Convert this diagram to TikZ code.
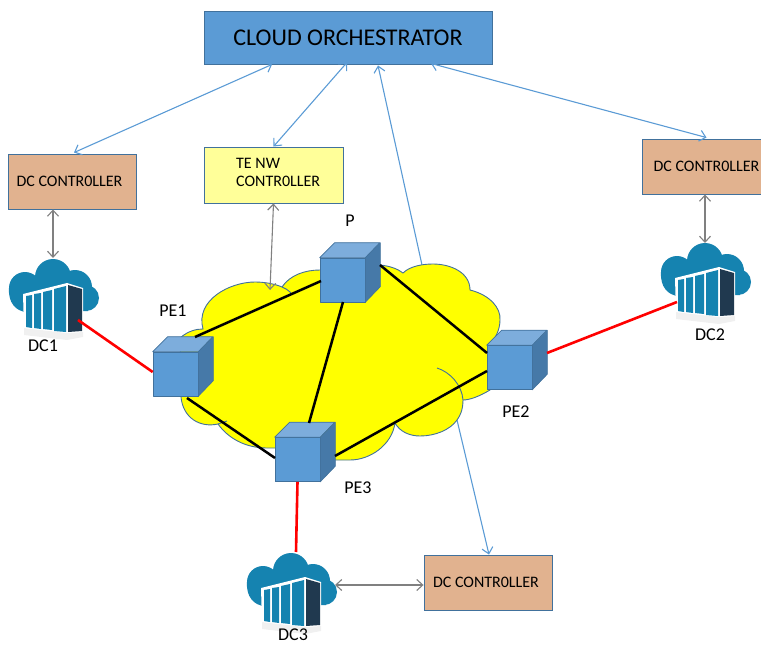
\documentclass[tikz,border=0pt]{standalone}
\usepackage{fontspec}
\setmainfont{Carlito}
\usetikzlibrary{arrows.meta,calc}
\definecolor{cubefront}{HTML}{5B9BD5}
\definecolor{cubetop}{HTML}{7DADDC}
\definecolor{cubeside}{HTML}{4679A8}
\definecolor{edge}{HTML}{41719C}
\definecolor{tan}{HTML}{E1B28F}
\definecolor{pale}{HTML}{FFFF99}
\definecolor{wanyellow}{HTML}{FFFF00}
\definecolor{linkred}{HTML}{FF0000}
\definecolor{skyline}{HTML}{5B9BD5}
\definecolor{dcblue}{HTML}{1583B0}
\definecolor{dcdark}{HTML}{20394F}
\tikzset{
  x=1pt,y=-1pt,
  box/.style={draw=edge,line width=0.9pt,inner sep=0pt,align=center,text=black},
  dcbox/.style={box,fill=tan,minimum width=128pt,minimum height=55pt,font=\fontsize{16}{19}\selectfont},
  face/.style={draw=edge,line width=0.6pt,line join=round},
  cubenode/.style={face,fill=cubefront,minimum width=45pt,minimum height=44pt,inner sep=0pt},
  lbl/.style={inner sep=0pt,font=\fontsize{18}{21}\selectfont,text=black},
  blue2/.style={draw=skyline,line width=1.1pt,{Straight Barb[length=6pt,width=11pt]}-{Straight Barb[length=6pt,width=11pt]}},
  blue1/.style={draw=skyline,line width=1.1pt,-{Straight Barb[length=6pt,width=11pt]}},
  grey2/.style={draw=black!50,line width=1.1pt,{Straight Barb[length=6pt,width=11pt]}-{Straight Barb[length=6pt,width=11pt]}},
  blk/.style={draw=black,line width=2.5pt},
  redl/.style={draw=linkred,line width=2.6pt},
  wan/.style={fill=wanyellow,draw=edge,line width=0.9pt},
}
\newcommand{\cubeat}[3]{%
  \node[cubenode] (#1) at (#2,#3) {};
  \filldraw[face,fill=cubetop] (#1.north west) -- ++(15,-15) -- ++(45,0) -- (#1.north east) -- cycle;
  \filldraw[face,fill=cubeside] (#1.north east) -- ++(15,-15) -- ++(0,44) -- (#1.south east) -- cycle;
}
\newcommand{\dcicon}[3]{%
  \begin{scope}[shift={(#2,#3)}]
    \coordinate (#1) at (0,0);
    \fill[black!6] (-30,33) -- (13,38) -- (29,37) -- (29,42) -- (13,45) -- (-30,40) -- cycle;
    \fill[dcblue] (-29,-7) circle[radius=16] (-1,-18) circle[radius=18] (21,-8) circle[radius=17] (32,3) circle[radius=13];
    \fill[dcblue] (-45,-7) .. controls (-46,8) and (-38,16) .. (-28,17) -- (34,16) -- (34,-8) -- (0,-20) -- cycle;
    \fill[white] (-31,-1) -- (13,-12) -- (29,-7) -- (29,37) -- (13,38) -- (-30,33) -- cycle;
    \fill[dcdark] (14,-10) -- (28,-6) -- (28,36) -- (14,37) -- cycle;
    \fill[dcblue] (-28,1) -- (-22,0) -- (-22,33) -- (-28,32) -- cycle;
    \fill[dcblue] (-20,-1) -- (-13,-2) -- (-13,34) -- (-20,33) -- cycle;
    \fill[dcblue] (-11,-3) -- (-2,-5) -- (-2,35) -- (-11,34) -- cycle;
    \fill[dcblue] (0,-6) -- (12,-9) -- (12,37) -- (0,36) -- cycle;
  \end{scope}
}
\begin{document}
\begin{tikzpicture}
\useasboundingbox (0,0) rectangle (761,645);
\node[box,fill=cubefront,minimum width=288pt,minimum height=53pt,font=\fontsize{24}{28}\selectfont] (orch) at (348,37.5) {CLOUD ORCHESTRATOR};
\node[dcbox] (dc1box) at (72,181.5) {\hspace*{-5pt}DC CONTR0LLER};
\node[dcbox] (dc2box) at (706.5,166.5) {DC CONTR0LLER};
\node[dcbox] (dc3box) at (488,582.5) {\hspace*{-4pt}DC CONTR0LLER};
\node[box,fill=pale,minimum width=139pt,minimum height=56pt] (te) at (273.5,175) {};
\node[lbl,anchor=west,font=\fontsize{16}{19}\selectfont] (tea) at (236,163) {TE NW};
\node[lbl,anchor=west,font=\fontsize{16}{19}\selectfont] (teb) at (236,181) {CONTR0LLER};
\coordinate (cloudN) at (422,265);
\coordinate (cloudS) at (457,420);
\coordinate (cloudT) at (270,290);
% connectors behind the cloud
\draw[blue1] (cloudN) -- ($(orch.south)+(30,1)$);
\draw[blue1] (cloudS) -- ($(dc3box.north)+(1,0)$);
% WAN cloud
\path[wan] (181,397) -- (180,338)
  .. controls (188,331) and (196,329) .. (203,329)
  .. controls (195,300) and (230,282) .. (255,282)
  .. controls (265,282) and (275,284) .. (282,287)
  .. controls (290,275) and (305,270) .. (320,270)
  -- (380,265)
  .. controls (390,266) and (398,269) .. (403,273)
  .. controls (410,266) and (423,264) .. (433,264)
  .. controls (450,264) and (470,272) .. (470,290)
  .. controls (490,295) and (501,308) .. (500,320)
  .. controls (500,330) and (495,340) .. (488,346)
  -- (490,390)
  .. controls (480,396) and (470,400) .. (463,400)
  .. controls (463,410) and (460,416) .. (457,420)
  .. controls (450,430) and (435,436) .. (420,436)
  .. controls (410,436) and (400,432) .. (395,423)
  .. controls (392,445) and (370,460) .. (350,460)
  -- (335,460) -- (275,448) -- (267,448)
  .. controls (245,448) and (228,438) .. (218,424)
  .. controls (200,428) and (183,418) .. (181,397) -- cycle;
\draw[draw=edge,line width=0.9pt] (437,368) .. controls (450,372) and (462,385) .. (463,400);
\draw[draw=edge,line width=0.9pt] (282,287) .. controls (285,288) and (288,290) .. (291,293);
\draw[draw=edge,line width=0.9pt] (218,424) -- (227,421);
% DC icons
\dcicon{dc1}{54}{295}
\dcicon{dc2}{706}{279}
\dcicon{dc3}{292}{589}
% labels
\node[lbl] (lp) at (350,221) {P};
\node[lbl] (lpe1) at (173,311) {PE1};
\node[lbl] (lpe2) at (516,412) {PE2};
\node[lbl] (lpe3) at (358,488) {PE3};
\node[lbl] (ldc1) at (43,346) {DC1};
\node[lbl] (ldc2) at (710,335) {DC2};
\node[lbl] (ldc3) at (293,635) {DC3};
% control arrows
\draw[blue2] ($(orch.south)+(-76,0)$) -- ($(dc1box.north)+(2,-1)$);
\draw[blue2] ($(orch.south)+(-1,-2)$) -- (te.north);
\draw[blue2] ($(orch.south)+(83,-1)$) -- ($(dc2box.north)+(0,-1)$);
\draw[grey2] ($(dc1box.south)+(-19,0)$) -- ($(dc1)+(-1,-37)$);
\draw[grey2] ($(dc2box.south)+(-1.5,0)$) -- ($(dc2)+(-1,-36)$);
\draw[grey2] ($(dc3)+(43,-4)$) -- ($(dc3box.west)+(0,2.5)$);
\draw[grey2] (te.south) -- (cloudT);
% cubes
\cubeat{pe1}{175.5}{374}
\cubeat{p}{342.5}{280}
\cubeat{pe2}{509.5}{367.5}
\cubeat{pe3}{297.5}{459.5}
% links
\draw[blk] ($(pe1)+(19.5,-37)$) -- ($(p)+(-21.5,1)$);
\draw[blk] ($(p)+(0.5,22)$) -- ($(pe3)+(11.5,-36.5)$);
\draw[blk] ($(p)+(37.5,-15)$) -- ($(pe2)+(-22.5,-14.5)$);
\draw[blk] ($(pe1)+(11.5,24)$) -- ($(pe3)+(-22.5,-1.5)$);
\draw[blk] ($(pe3)+(37.5,-3.5)$) -- ($(pe2)+(-22.5,3.5)$);
\draw[redl] ($(dc1)+(24,25)$) -- ($(pe1.west)+(0,-2)$);
\draw[redl] ($(pe2)+(37.5,-14.5)$) -- ($(dc2)+(-29,23)$);
\draw[redl] (pe3.south) -- ($(dc3)+(4,-37)$);
\end{tikzpicture}
\end{document}
